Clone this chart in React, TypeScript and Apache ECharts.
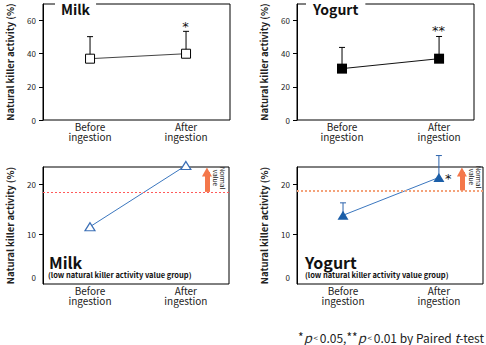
import React, { useEffect, useRef } from "react";
import * as echarts from "echarts";

const categories = ["Before\ningestion", "After\ningestion"];
const xPos = [1, 2];
const milkAll = [37, 40];
const milkAllUpper = [50.3, 53.5];
const yogurtAll = [31, 37];
const yogurtAllUpper = [43.8, 50.4];
const milkLow = [11.5, 23.8];
const yogurtLow = [13.8, 21.4];
const yogurtLowUpper = [16.3, 25.8];
const normalMilk = 18.5;
const normalYogurt = 18.8;
const topTicks = [0, 20, 40, 60];
const lowTickMarks = [10, 20];
const lowTickLabels = [0, 10, 20];

const FONT = '"Noto Sans CJK JP", "Noto Sans", sans-serif';
const STAR_FONT = '"DejaVu Sans", sans-serif';
const Y_NAME = "Natural killer activity (%)";

function pairs(ys: number[]) {
  return xPos.map((x, i) => [x, ys[i]]);
}
function errData(ys: number[], up: number[]) {
  return xPos.map((x, i) => [x, ys[i], up[i]]);
}

function errSeries(xi: number, data: number[][], color: string) {
  return {
    type: "custom",
    xAxisIndex: xi,
    yAxisIndex: xi,
    clip: false,
    z: 1,
    data,
    renderItem: (params: any, api: any) => {
      const x = api.value(0);
      const p0 = api.coord([x, api.value(1)]);
      const p1 = api.coord([x, api.value(2)]);
      return {
        type: "group",
        children: [
          { type: "line", shape: { x1: p0[0], y1: p0[1], x2: p1[0], y2: p1[1] }, style: { stroke: color, lineWidth: 1 } },
          { type: "line", shape: { x1: p1[0] - 3, y1: p1[1], x2: p1[0] + 3, y2: p1[1] }, style: { stroke: color, lineWidth: 1 } },
        ],
      };
    },
  };
}

function xAxisCfg(gi: number, min: number, max: number, margin: number) {
  return {
    type: "value",
    gridIndex: gi,
    min,
    max,
    axisLine: { show: false },
    axisTick: { show: false },
    splitLine: { show: false },
    axisLabel: {
      customValues: xPos,
      formatter: (v: number) => categories[Math.round(v) - 1],
      fontSize: 10,
      lineHeight: 10.5,
      color: "#222",
      fontFamily: FONT,
      margin,
    },
  };
}

function yAxisTop(gi: number) {
  return {
    type: "value",
    gridIndex: gi,
    min: 0,
    max: 70,
    axisLine: { show: true, lineStyle: { color: "#000" } },
    axisTick: { show: true, customValues: topTicks, length: 4, lineStyle: { color: "#000" } },
    axisLabel: { customValues: topTicks, fontSize: 8, color: "#222", margin: 7, fontFamily: FONT },
    splitLine: { show: false },
    name: Y_NAME,
    nameLocation: "middle",
    nameGap: 28,
    nameTextStyle: { fontSize: 9.5, fontWeight: "bold", color: "#222", fontFamily: FONT },
  };
}

function yAxisLow(gi: number) {
  return {
    type: "value",
    gridIndex: gi,
    min: 0,
    max: 23.5,
    axisLine: { show: true, lineStyle: { color: "#000" } },
    axisTick: { show: true, customValues: lowTickMarks, length: 4, lineStyle: { color: "#000" } },
    axisLabel: {
      customValues: lowTickLabels,
      fontSize: 8,
      color: "#222",
      margin: 7,
      fontFamily: FONT,
      formatter: (v: number) => (v === 0 ? "{z|0}" : String(v)),
      rich: { z: { fontSize: 8, color: "#222", fontFamily: FONT, padding: [0, 0, 14, 0] } },
    },
    splitLine: { show: false },
    name: Y_NAME,
    nameLocation: "middle",
    nameGap: 28,
    nameTextStyle: { fontSize: 9.5, fontWeight: "bold", color: "#222", fontFamily: FONT },
  };
}

function normalMark(level: number, arrowX: number, dotColor: string, dotWidth: number, dash: number[]) {
  return {
    silent: true,
    symbol: ["none", "none"],
    label: { show: false },
    lineStyle: { type: dash, color: dotColor, width: dotWidth, opacity: 1 },
    emphasis: { disabled: true },
    data: [
      { yAxis: level },
      [
        { coord: [arrowX, level], symbol: "none", lineStyle: { type: "solid", color: "#f4774a", width: 5 } },
        { coord: [arrowX, 22.5], symbol: "triangle", symbolSize: [10, 9] },
      ],
    ],
  };
}

function txt(x: number, y: number, text: string, size: number, weight: string, extra: any = {}) {
  return {
    type: "text",
    x,
    y,
    z: 100,
    style: {
      text,
      fontSize: size,
      fontWeight: weight,
      fontFamily: FONT,
      fill: "#111",
      align: "left",
      verticalAlign: "middle",
      ...extra,
    },
  };
}

export default function App() {
  const ref = useRef<HTMLDivElement>(null);
  useEffect(() => {
    if (!ref.current) return;
    const chart = echarts.init(ref.current, undefined, { renderer: "svg" });
    const gridBase = { show: true, borderColor: "#000", borderWidth: 1, backgroundColor: "transparent", containLabel: false };
    chart.setOption({
      animation: false,
      backgroundColor: "#fff",
      grid: [
        { ...gridBase, left: 43, top: 4, width: 187, height: 116 },
        { ...gridBase, left: 297, top: 4, width: 177, height: 116 },
        { ...gridBase, left: 43, top: 167, width: 186, height: 117 },
        { ...gridBase, left: 297, top: 167, width: 186, height: 117 },
      ],
      xAxis: [
        xAxisCfg(0, 0.51, 2.458, 1),
        xAxisCfg(1, 0.536, 2.36, 1),
        xAxisCfg(2, 0.51, 2.45, 1),
        xAxisCfg(3, 0.52, 2.46, 1),
      ],
      yAxis: [yAxisTop(0), yAxisTop(1), yAxisLow(2), yAxisLow(3)],
      series: [
        errSeries(0, errData(milkAll, milkAllUpper), "#000"),
        {
          type: "line",
          xAxisIndex: 0,
          yAxisIndex: 0,
          data: pairs(milkAll),
          symbol: "rect",
          symbolSize: 9,
          z: 3,
          lineStyle: { color: "#444", width: 1 },
          itemStyle: { color: "#fff", borderColor: "#000", borderWidth: 1 },
        },
        errSeries(1, errData(yogurtAll, yogurtAllUpper), "#000"),
        {
          type: "line",
          xAxisIndex: 1,
          yAxisIndex: 1,
          data: pairs(yogurtAll),
          symbol: "rect",
          symbolSize: 10,
          z: 3,
          lineStyle: { color: "#111", width: 1 },
          itemStyle: { color: "#000", borderColor: "#000", borderWidth: 0 },
        },
        {
          type: "line",
          xAxisIndex: 2,
          yAxisIndex: 2,
          data: pairs(milkLow),
          symbol: "triangle",
          symbolSize: [10, 8],
          clip: false,
          z: 3,
          lineStyle: { color: "#3b77bf", width: 1 },
          itemStyle: { color: "#fff", borderColor: "#3b6fb6", borderWidth: 1.2 },
          markLine: normalMark(normalMilk, 2.22, "#ff5a5a", 1, [2, 2]),
        },
        errSeries(3, errData(yogurtLow, yogurtLowUpper), "#2d64ad"),
        {
          type: "line",
          xAxisIndex: 3,
          yAxisIndex: 3,
          data: pairs(yogurtLow),
          symbol: "triangle",
          symbolSize: [11, 9],
          clip: false,
          z: 3,
          lineStyle: { color: "#3b77bf", width: 1 },
          itemStyle: { color: "#1b5ea8", borderWidth: 0 },
          markLine: normalMark(normalYogurt, 2.24, "#f4a27a", 2, [2, 2]),
        },
      ],
      graphic: [
        txt(55, 9, "Milk", 14, "bold", { backgroundColor: "#fff", padding: [0, 6] }),
        txt(306, 9, "Yogurt", 14, "bold", { backgroundColor: "#fff", padding: [0, 7] }),
        txt(185.5, 26, "*", 13, "normal", { align: "center", fontFamily: STAR_FONT }),
        txt(438.5, 30, "**", 13, "normal", { align: "center", fontFamily: STAR_FONT }),
        txt(445, 178, "*", 13, "normal", { fontFamily: STAR_FONT }),
        txt(49, 262, "Milk", 16, "bold"),
        txt(48, 274, "(low natural killer activity value group)", 7.5, "bold"),
        txt(305, 262, "Yogurt", 16, "bold"),
        txt(305, 274, "(low natural killer activity value group)", 7.5, "bold"),
        {
          type: "text",
          x: 219,
          y: 178,
          rotation: -Math.PI / 2,
          z: 100,
          style: { text: "Normal\nvalue", fontSize: 6.5, lineHeight: 7, fontFamily: FONT, fill: "#222", align: "center", verticalAlign: "middle" },
        },
        {
          type: "text",
          x: 475,
          y: 177,
          rotation: -Math.PI / 2,
          z: 100,
          style: { text: "Normal\nvalue", fontSize: 6.5, lineHeight: 7, fontFamily: FONT, fill: "#222", align: "center", verticalAlign: "middle" },
        },
        {
          type: "text",
          x: 484,
          y: 337,
          z: 100,
          style: {
            text: "{s|*}{i|p}{l| < }{n|0.05,}{s|**}{i|p}{l| < }{n|0.01 by Paired }{i|t}{n|-test}",
            align: "right",
            verticalAlign: "middle",
            fontFamily: FONT,
            rich: {
              s: { fontSize: 12, fontFamily: FONT, fill: "#222", verticalAlign: "top" },
              i: { fontSize: 13, fontStyle: "italic", fontFamily: FONT, fill: "#222" },
              l: { fontSize: 8, fontFamily: FONT, fill: "#222" },
              n: { fontSize: 12, fontFamily: FONT, fill: "#222" },
            },
          },
        },
      ],
    });
    return () => chart.dispose();
  }, []);
  return <div ref={ref} style={{ position: "fixed", left: 0, top: 0, width: 486, height: 345 }} />;
}
